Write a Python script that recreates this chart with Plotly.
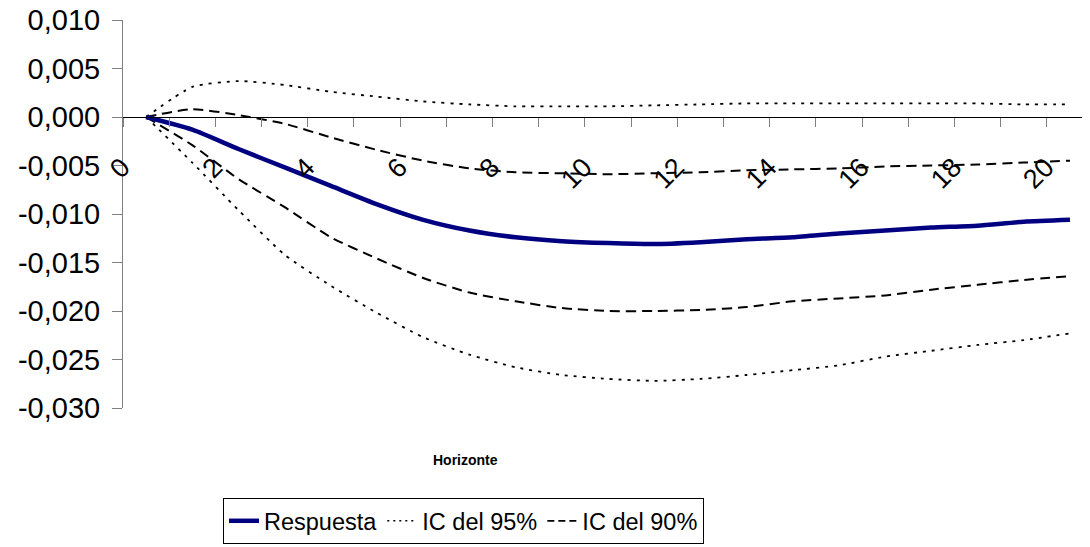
import plotly.graph_objects as go

horizonte = list(range(21))
respuesta = [0.0, -0.0013, -0.0033, -0.0052, -0.0071, -0.0090, -0.0106, -0.0117, -0.0124, -0.0128,
             -0.0130, -0.0131, -0.0129, -0.0126, -0.0124, -0.0120, -0.0117, -0.0114, -0.0112, -0.0108, -0.0106]
ic95_sup = [0.0, 0.0031, 0.0037, 0.0033, 0.0026, 0.0021, 0.0016, 0.0013, 0.0011, 0.0011,
            0.0011, 0.0012, 0.0013, 0.0014, 0.0014, 0.0014, 0.0014, 0.0014, 0.0014, 0.0013, 0.0013]
ic95_inf = [0.0, -0.0047, -0.0096, -0.0142, -0.0174, -0.0202, -0.0227, -0.0245, -0.0258, -0.0266,
            -0.0270, -0.0272, -0.0270, -0.0266, -0.0261, -0.0256, -0.0247, -0.0241, -0.0235, -0.0230, -0.0223]
ic90_sup = [0.0, 0.0008, 0.0002, -0.0007, -0.0021, -0.0034, -0.0045, -0.0053, -0.0057, -0.0058,
            -0.0059, -0.0058, -0.0057, -0.0055, -0.0054, -0.0053, -0.0051, -0.0050, -0.0049, -0.0047, -0.0045]
ic90_inf = [0.0, -0.0029, -0.0064, -0.0093, -0.0124, -0.0146, -0.0166, -0.0181, -0.0190, -0.0197,
            -0.0200, -0.0200, -0.0199, -0.0196, -0.0190, -0.0187, -0.0184, -0.0178, -0.0173, -0.0168, -0.0164]

y_tickvals = [0.010, 0.005, 0.0, -0.005, -0.010, -0.015, -0.020, -0.025, -0.030]
y_ticktext = ["0,010", "0,005", "0,000", "-0,005", "-0,010", "-0,015", "-0,020", "-0,025", "-0,030"]
x_labelvals = list(range(0, 21, 2))
x_labeltext = [str(v) for v in x_labelvals]
x_boundaries = [v - 0.5 for v in range(22)]

FONT = "Liberation Sans, Arial, sans-serif"

DOT = "3px,6px"
DASH = "10px,6px"
SM = 0.6

fig = go.Figure()
fig.add_trace(go.Scatter(x=horizonte, y=ic95_sup, mode="lines", name="IC del 95%", legendgroup="95",
                         showlegend=False, line=dict(color="black", width=1.8, dash=DOT, shape="spline", smoothing=SM)))
fig.add_trace(go.Scatter(x=horizonte, y=ic95_inf, mode="lines", name="IC del 95%", legendgroup="95",
                         showlegend=False, line=dict(color="black", width=1.8, dash=DOT, shape="spline", smoothing=SM)))
fig.add_trace(go.Scatter(x=horizonte, y=ic90_sup, mode="lines", name="IC del 90%", legendgroup="90",
                         showlegend=False, line=dict(color="black", width=2, dash=DASH, shape="spline", smoothing=SM)))
fig.add_trace(go.Scatter(x=horizonte, y=ic90_inf, mode="lines", name="IC del 90%", legendgroup="90",
                         showlegend=False, line=dict(color="black", width=2, dash=DASH, shape="spline", smoothing=SM)))
fig.add_trace(go.Scatter(x=horizonte, y=respuesta, mode="lines", name="Respuesta", legendgroup="r",
                         line=dict(color="#000080", width=4.5, shape="spline", smoothing=SM)))
# legend entries in reference order
fig.add_trace(go.Scatter(x=[None], y=[None], mode="lines", name="IC del 95%", legendgroup="95",
                         line=dict(color="black", width=1.5, dash="2px,4px")))
fig.add_trace(go.Scatter(x=[None], y=[None], mode="lines", name="IC del 90%", legendgroup="90",
                         line=dict(color="black", width=1.8, dash="7px,4px")))
# carrier for the label axis
fig.add_trace(go.Scatter(x=[None], y=[None], xaxis="x2", showlegend=False, hoverinfo="skip"))

x_range = [-0.5, 20.52]

fig.update_layout(
    width=1090, height=547,
    margin=dict(l=115, r=4, t=12, b=147, autoexpand=False),
    paper_bgcolor="white", plot_bgcolor="white",
    font=dict(family=FONT, color="black"),
    showlegend=True,
    legend=dict(orientation="h", x=0.103, xanchor="left", y=-0.232, yanchor="top",
                bordercolor="black", borderwidth=1, bgcolor="white",
                font=dict(family=FONT, size=23.5, color="black"),
                traceorder="normal"),
    xaxis=dict(type="linear", range=x_range, anchor="free", position=0.75,
               showline=True, linecolor="black", linewidth=1,
               tickmode="array", tickvals=x_boundaries, ticks="outside", ticklen=9,
               tickcolor="#808080", tickwidth=1, showticklabels=False,
               showgrid=False, zeroline=False, automargin=False),
    xaxis2=dict(type="linear", range=x_range, overlaying="x",
                anchor="free", position=0.75, showline=False, ticks="",
                tickmode="array", tickvals=x_labelvals, ticktext=x_labeltext,
                tickangle=-45, ticklabelstandoff=28, ticklabelshift=-24,
                ticklabeloverflow="allow", automargin=False,
                tickfont=dict(family=FONT, size=27, color="black"),
                showgrid=False, zeroline=False),
    yaxis=dict(range=[-0.030, 0.010], tickmode="array", tickvals=y_tickvals, ticktext=y_ticktext,
               ticks="outside", ticklen=10, tickcolor="#808080", tickwidth=1,
               showline=True, linecolor="#808080", linewidth=1,
               showgrid=False, zeroline=False, ticklabelstandoff=6,
               ticklabeloverflow="allow", automargin=False,
               tickfont=dict(family=FONT, size=29, color="black")),
    annotations=[dict(text="<b>Horizonte</b>", xref="paper", yref="paper", x=0.353, y=-0.134,
                      xanchor="center", yanchor="middle", showarrow=False,
                      font=dict(family=FONT, size=14, color="black"))],
)

fig.write_html("out.html")
